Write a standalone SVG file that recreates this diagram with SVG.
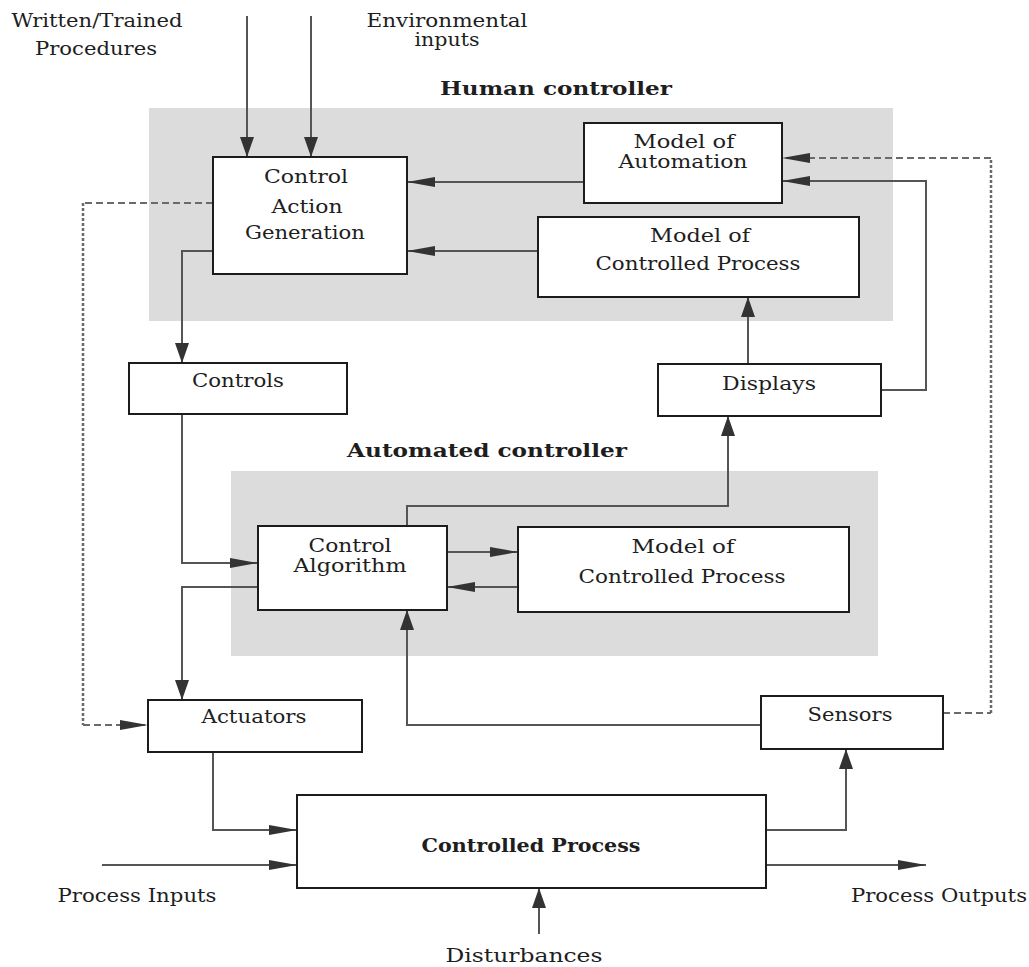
<svg xmlns="http://www.w3.org/2000/svg" width="1029" height="967" viewBox="0 0 1029 967">
  <style>
    text { font-family: "DejaVu Serif", "Liberation Serif", serif; font-size: 18px; fill: #1e1e1e; }
    .c { text-anchor: middle; }
    .b { font-weight: bold; }
    .box { fill: #ffffff; stroke: #1c1c1c; stroke-width: 2; }
    .zone { fill: #dcdcdd; }
    .wire { fill: none; stroke: #555555; stroke-width: 2; }
    .dash-h { fill: none; stroke: #6a6a6a; stroke-width: 2; stroke-dasharray: 7 4; }
    .dash-v { fill: none; stroke: #6a6a6a; stroke-width: 2.5; stroke-dasharray: 3 2; }
  </style>
  <defs>
    <!-- arrowheads: long and thin along horizontal runs, shorter and wider on vertical runs -->
    <marker id="ah" markerUnits="userSpaceOnUse" markerWidth="28" markerHeight="10" refX="28" refY="5" orient="auto">
      <path d="M0,0 L28,5 L0,10 Z" fill="#333333"/>
    </marker>
    <marker id="av" markerUnits="userSpaceOnUse" markerWidth="20" markerHeight="14" refX="20" refY="7" orient="auto">
      <path d="M0,0 L20,7 L0,14 Z" fill="#333333"/>
    </marker>
  </defs>

  <rect width="1029" height="967" fill="#ffffff"/>

  <!-- controller regions -->
  <g id="human-controller">
    <rect class="zone" x="149" y="108" width="744" height="213"/>
    <text class="b" x="440" y="95" textLength="232" lengthAdjust="spacingAndGlyphs">Human controller</text>
  </g>
  <g id="automated-controller">
    <rect class="zone" x="231" y="471" width="647" height="185"/>
    <text class="b" x="347" y="457" textLength="280" lengthAdjust="spacingAndGlyphs">Automated controller</text>
  </g>

  <!-- free labels -->
  <g id="label-procedures">
    <text class="c" x="97" y="27" textLength="171" lengthAdjust="spacingAndGlyphs">Written/Trained</text>
    <text class="c" x="96" y="55" textLength="122" lengthAdjust="spacingAndGlyphs">Procedures</text>
  </g>
  <g id="label-environment">
    <text class="c" x="447" y="27" textLength="161" lengthAdjust="spacingAndGlyphs">Environmental</text>
    <text class="c" x="447" y="46" textLength="65" lengthAdjust="spacingAndGlyphs">inputs</text>
  </g>
  <g id="label-process-inputs">
    <text class="c" x="137" y="902" textLength="159" lengthAdjust="spacingAndGlyphs">Process Inputs</text>
  </g>
  <g id="label-process-outputs">
    <text class="c" x="939" y="902" textLength="176" lengthAdjust="spacingAndGlyphs">Process Outputs</text>
  </g>
  <g id="label-disturbances">
    <text class="c" x="524" y="962" textLength="157" lengthAdjust="spacingAndGlyphs">Disturbances</text>
  </g>

  <!-- connectors -->
  <g id="connectors">
    <line class="wire" x1="247" y1="16" x2="247" y2="157" marker-end="url(#av)"/>
    <line class="wire" x1="311" y1="16" x2="311" y2="157" marker-end="url(#av)"/>
    <line class="wire" x1="584" y1="182" x2="407" y2="182" marker-end="url(#ah)"/>
    <line class="wire" x1="538" y1="251" x2="407" y2="251" marker-end="url(#ah)"/>
    <polyline class="wire" points="213,251 182,251 182,363" marker-end="url(#av)"/>
    <polyline class="wire" points="182,414 182,563 258,563" marker-end="url(#ah)"/>
    <polyline class="wire" points="258,587 182,587 182,700" marker-end="url(#av)"/>
    <polyline class="wire" points="407,526 407,506 728,506 728,416" marker-end="url(#av)"/>
    <line class="wire" x1="447" y1="552" x2="518" y2="552" marker-end="url(#ah)"/>
    <line class="wire" x1="518" y1="587" x2="447" y2="587" marker-end="url(#ah)"/>
    <polyline class="wire" points="761,725 407,725 407,610" marker-end="url(#av)"/>
    <line class="wire" x1="748" y1="364" x2="748" y2="297" marker-end="url(#av)"/>
    <polyline class="wire" points="881,390 926,390 926,181 782,181" marker-end="url(#ah)"/>
    <polyline class="wire" points="213,752 213,830 297,830" marker-end="url(#ah)"/>
    <line class="wire" x1="102" y1="865" x2="297" y2="865" marker-end="url(#ah)"/>
    <polyline class="wire" points="766,830 846,830 846,749" marker-end="url(#av)"/>
    <line class="wire" x1="766" y1="865" x2="926" y2="865" marker-end="url(#ah)"/>
    <line class="wire" x1="539" y1="934" x2="539" y2="888" marker-end="url(#av)"/>
    <!-- dashed direct paths -->
    <line class="dash-h" x1="213" y1="203" x2="83" y2="203"/>
    <line class="dash-v" x1="83" y1="203" x2="83" y2="725"/>
    <line class="dash-h" x1="83" y1="725" x2="148" y2="725" marker-end="url(#ah)"/>
    <line class="dash-h" x1="943" y1="713" x2="991" y2="713"/>
    <line class="dash-v" x1="991" y1="713" x2="991" y2="158"/>
    <line class="dash-h" x1="991" y1="158" x2="782" y2="158" marker-end="url(#ah)"/>
  </g>

  <!-- nodes -->
  <g id="control-action-generation">
    <rect class="box" x="213" y="157" width="194" height="117"/>
    <text class="c" x="306" y="183" textLength="84" lengthAdjust="spacingAndGlyphs">Control</text>
    <text class="c" x="307" y="213" textLength="71" lengthAdjust="spacingAndGlyphs">Action</text>
    <text class="c" x="305" y="239" textLength="120" lengthAdjust="spacingAndGlyphs">Generation</text>
  </g>
  <g id="model-of-automation">
    <rect class="box" x="584" y="123" width="198" height="80"/>
    <text class="c" x="684" y="148" textLength="101" lengthAdjust="spacingAndGlyphs">Model of</text>
    <text class="c" x="683" y="168" textLength="129" lengthAdjust="spacingAndGlyphs">Automation</text>
  </g>
  <g id="human-process-model">
    <rect class="box" x="538" y="217" width="321" height="80"/>
    <text class="c" x="700" y="242" textLength="100" lengthAdjust="spacingAndGlyphs">Model of</text>
    <text class="c" x="698" y="270" textLength="205" lengthAdjust="spacingAndGlyphs">Controlled Process</text>
  </g>
  <g id="controls">
    <rect class="box" x="129" y="363" width="218" height="51"/>
    <text class="c" x="238" y="387" textLength="92" lengthAdjust="spacingAndGlyphs">Controls</text>
  </g>
  <g id="displays">
    <rect class="box" x="658" y="364" width="223" height="52"/>
    <text class="c" x="769" y="390" textLength="94" lengthAdjust="spacingAndGlyphs">Displays</text>
  </g>
  <g id="control-algorithm">
    <rect class="box" x="258" y="526" width="189" height="84"/>
    <text class="c" x="350" y="552" textLength="83" lengthAdjust="spacingAndGlyphs">Control</text>
    <text class="c" x="350" y="572" textLength="113" lengthAdjust="spacingAndGlyphs">Algorithm</text>
  </g>
  <g id="automated-process-model">
    <rect class="box" x="518" y="527" width="331" height="85"/>
    <text class="c" x="683" y="553" textLength="103" lengthAdjust="spacingAndGlyphs">Model of</text>
    <text class="c" x="682" y="583" textLength="207" lengthAdjust="spacingAndGlyphs">Controlled Process</text>
  </g>
  <g id="actuators">
    <rect class="box" x="148" y="700" width="214" height="52"/>
    <text class="c" x="254" y="723" textLength="105" lengthAdjust="spacingAndGlyphs">Actuators</text>
  </g>
  <g id="sensors">
    <rect class="box" x="761" y="696" width="182" height="53"/>
    <text class="c" x="850" y="721" textLength="85" lengthAdjust="spacingAndGlyphs">Sensors</text>
  </g>
  <g id="controlled-process">
    <rect class="box" x="297" y="795" width="469" height="93"/>
    <text class="c b" x="531" y="852" textLength="219" lengthAdjust="spacingAndGlyphs">Controlled Process</text>
  </g>
</svg>
